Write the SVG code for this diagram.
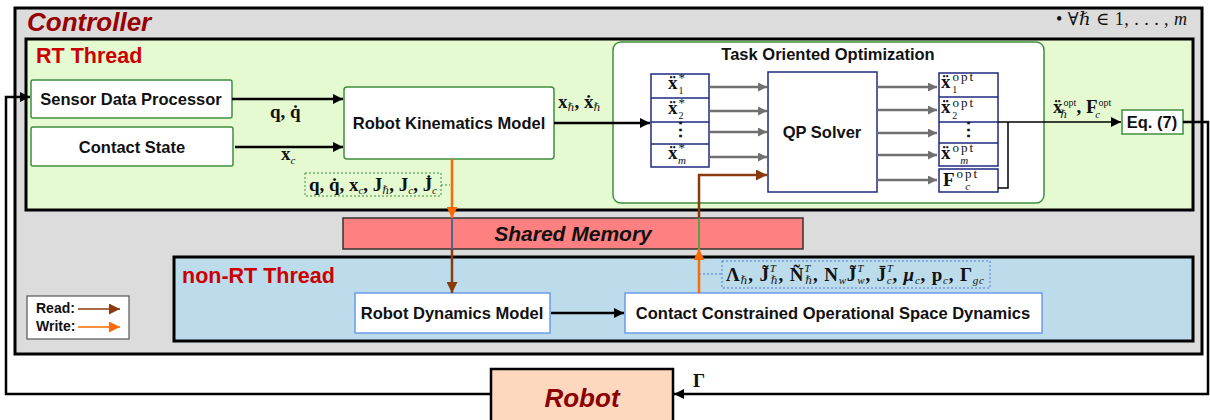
<svg xmlns="http://www.w3.org/2000/svg" width="1210" height="420" viewBox="0 0 1210 420">
<style>
  .frame{stroke:#000;stroke-width:3}
  .lbl{font-family:"Liberation Sans",Arial,sans-serif;font-weight:bold;font-size:16.5px;fill:#111;text-anchor:middle}
  .title{font-family:"Liberation Sans",Arial,sans-serif;font-weight:bold;fill:#cc0000;font-size:21.5px}
  .math{font-family:"Liberation Serif","DejaVu Serif",serif;font-weight:bold;font-size:19px;fill:#111}
  .it{font-family:"Liberation Serif","DejaVu Serif",serif;font-style:italic;font-weight:normal;font-size:11px;fill:#111}
  .rm{font-family:"Liberation Serif","DejaVu Serif",serif;font-weight:normal;font-size:10px;fill:#111}
  .sup{font-family:"Liberation Serif","DejaVu Serif",serif;font-weight:normal;font-size:13px;fill:#111}
  .opt{font-family:"Liberation Serif","DejaVu Serif",serif;font-weight:normal;font-size:13px;letter-spacing:2px;fill:#111}
  .gbox{fill:#fff;stroke:#3f8f3f;stroke-width:1.5}
  .bbox{fill:#fff;stroke:#6b9cec;stroke-width:1.5}
  .nbox{fill:#fff;stroke:#1f2a80;stroke-width:1.5}
  .blk{fill:none;stroke:#000;stroke-width:2.5}
  .gry{fill:none;stroke:#707070;stroke-width:2.5}
  .brn{fill:none;stroke:#8b3a0e;stroke-width:2.5}
  .org{fill:none;stroke:#ff6a00;stroke-width:2.5}
</style>
<defs>
  <marker id="ah-blk" viewBox="0 0 10 10" refX="10" refY="5" markerWidth="14" markerHeight="10" markerUnits="userSpaceOnUse" orient="auto"><path d="M0,0 L10,5 L0,10 z" fill="#000"/></marker>
  <marker id="ah-gry" viewBox="0 0 10 10" refX="10" refY="5" markerWidth="14" markerHeight="9" markerUnits="userSpaceOnUse" orient="auto"><path d="M0,0 L10,5 L0,10 z" fill="#707070"/></marker>
  <marker id="ah-brn" viewBox="0 0 10 10" refX="10" refY="5" markerWidth="13" markerHeight="11" markerUnits="userSpaceOnUse" orient="auto"><path d="M0,0 L10,5 L0,10 z" fill="#8b3a0e"/></marker>
  <marker id="ah-org" viewBox="0 0 10 10" refX="10" refY="5" markerWidth="13" markerHeight="11" markerUnits="userSpaceOnUse" orient="auto"><path d="M0,0 L10,5 L0,10 z" fill="#ff6a00"/></marker>
</defs>

<rect width="1210" height="420" fill="#fff"/>

<!-- controller container -->
<g id="controller">
  <rect x="15" y="8" width="1187" height="346" fill="#dcdcdc" class="frame"/>
  <text x="27" y="31" font-family="Liberation Sans,Arial,sans-serif" font-weight="bold" font-style="italic" font-size="26" fill="#990000">Controller</text>
  <text x="1056" y="25" font-family="Liberation Serif,DejaVu Serif,serif" font-size="18" fill="#111" textLength="131" lengthAdjust="spacing">• ∀<tspan font-style="italic">ℏ</tspan> ∈ 1, . . . , <tspan font-style="italic">m</tspan></text>
</g>

<!-- real-time thread -->
<g id="rt-thread">
  <rect x="26" y="39" width="1167" height="171" fill="#e5fad0" class="frame"/>
  <text x="36" y="63" class="title">RT Thread</text>
</g>

<g id="sensor">
  <rect x="31" y="80" width="201" height="38" rx="2" class="gbox"/>
  <text x="131" y="105" class="lbl">Sensor Data Processor</text>
</g>
<g id="contact-state">
  <rect x="31" y="127" width="202" height="39" rx="2" class="gbox"/>
  <text x="132" y="153" class="lbl">Contact State</text>
</g>
<g id="kinematics">
  <rect x="344" y="87" width="210" height="72" rx="3" class="gbox"/>
  <text x="449" y="129" class="lbl">Robot Kinematics Model</text>
</g>

<g id="task-opt">
  <rect x="613" y="42" width="431" height="161" rx="8" class="gbox"/>
  <text x="828" y="60" class="lbl" font-size="14.5">Task Oriented Optimization</text>
</g>

<!-- task references -->
<g id="task-refs">
  <rect x="651" y="74" width="58" height="93" class="nbox"/>
  <path d="M651,98 H709 M651,122 H709 M651,144 H709" stroke="#1f2a80" stroke-width="1.3"/>
  <text x="668" y="89" class="math">ẍ<tspan class="sup" dx="1" dy="-7">*</tspan><tspan class="rm" dx="-6.5" dy="12">1</tspan></text>
  <text x="668" y="114" class="math">ẍ<tspan class="sup" dx="1" dy="-7">*</tspan><tspan class="rm" dx="-6.5" dy="12">2</tspan></text>
  <text x="680" y="136" class="math" text-anchor="middle" font-size="15">⋮</text>
  <text x="668" y="159" class="math">ẍ<tspan class="sup" dx="1" dy="-7">*</tspan><tspan class="it" font-size="10" dx="-7" dy="12">m</tspan></text>
</g>

<g id="qp-solver">
  <rect x="768" y="72" width="109" height="120" class="nbox"/>
  <text x="822" y="138" class="lbl">QP Solver</text>
</g>

<!-- optimal outputs -->
<g id="opt-outputs">
  <rect x="939" y="73" width="59" height="93" class="nbox"/>
  <path d="M939,97 H998 M939,122 H998 M939,143 H998" stroke="#1f2a80" stroke-width="1.3"/>
  <text x="941" y="88" class="math">ẍ<tspan class="opt" dx="2" dy="-7">opt</tspan><tspan class="rm" dx="-23" dy="12">1</tspan></text>
  <text x="941" y="113" class="math">ẍ<tspan class="opt" dx="2" dy="-6">opt</tspan><tspan class="rm" dx="-23" dy="12">2</tspan></text>
  <text x="968" y="136" class="math" text-anchor="middle" font-size="15">⋮</text>
  <text x="941" y="159" class="math">ẍ<tspan class="opt" dx="2" dy="-7">opt</tspan><tspan class="it" font-size="10" dx="-15" dy="12">m</tspan></text>
</g>
<g id="contact-force">
  <rect x="939" y="169" width="59" height="23" class="nbox"/>
  <text x="943" y="186" class="math" font-size="18">F<tspan class="opt" dx="2" dy="-8">opt</tspan><tspan class="it" font-size="10" dx="-14" dy="12">c</tspan></text>
</g>

<g id="eq7">
  <rect x="1122" y="110" width="61" height="24" class="gbox"/>
  <text x="1152" y="127.5" class="lbl" font-size="14">Eq. (7)</text>
</g>

<!-- shared memory -->
<g id="shared-memory">
  <rect x="343" y="218" width="460" height="31" fill="#ff8080" stroke="#333" stroke-width="1.5"/>
  <text x="573" y="241" font-family="Liberation Sans,Arial,sans-serif" font-weight="bold" font-style="italic" font-size="21" fill="#111" text-anchor="middle">Shared Memory</text>
</g>

<!-- non-real-time thread -->
<g id="nrt-thread">
  <rect x="174" y="257" width="1019" height="84" fill="#bcdbeb" class="frame"/>
  <text x="182" y="283" class="title">non-RT Thread</text>
</g>
<g id="dynamics">
  <rect x="355" y="293" width="195" height="40" class="bbox"/>
  <text x="452" y="319" class="lbl">Robot Dynamics Model</text>
</g>
<g id="ccosd">
  <rect x="625" y="293" width="417" height="40" class="bbox"/>
  <text x="833" y="319" class="lbl">Contact Constrained Operational Space Dynamics</text>
</g>

<!-- legend -->
<g id="legend">
  <rect x="27" y="296" width="102" height="43" fill="#fff" stroke="#555" stroke-width="1.2"/>
  <text x="36" y="313" font-family="Liberation Sans,Arial,sans-serif" font-weight="bold" font-size="14" fill="#111">Read:</text>
  <text x="36" y="331" font-family="Liberation Sans,Arial,sans-serif" font-weight="bold" font-size="14" fill="#111">Write:</text>
  <path d="M78,309 H120" stroke="#8b3a0e" stroke-width="1.5" marker-end="url(#ah-brn)"/>
  <path d="M78,327 H120" stroke="#ff6a00" stroke-width="1.5" marker-end="url(#ah-org)"/>
</g>

<!-- plant -->
<g id="robot">
  <rect x="491" y="369" width="182" height="60" fill="#fdd8bf" stroke="#000" stroke-width="2.5"/>
  <text x="582" y="407" font-family="Liberation Sans,Arial,sans-serif" font-weight="bold" font-style="italic" font-size="26" fill="#8b0000" text-anchor="middle">Robot</text>
</g>

<!-- signal labels -->
<g id="labels">
  <text x="270" y="118" class="math" font-size="18">q, q̇</text>
  <text x="281" y="160" class="math" font-size="18">x<tspan class="it" font-size="13" dy="4">c</tspan></text>
  <text x="558" y="108" class="math" font-size="18">x<tspan class="it" font-size="13" dy="3">ℏ</tspan><tspan dy="-3">, ẋ</tspan><tspan class="it" font-size="13" dy="3">ℏ</tspan></text>
  <text x="1053" y="113" class="math" font-size="15">ẍ<tspan class="rm" font-size="10.5" dx="1" dy="-7">opt</tspan><tspan class="it" font-size="9" dx="-16" dy="12">ℏ</tspan><tspan dx="9" dy="-5">, F</tspan><tspan class="rm" font-size="10.5" dx="1" dy="-7">opt</tspan><tspan class="it" font-size="9" dx="-16" dy="12">c</tspan></text>
  <text x="693" y="387" class="math" font-size="21">Γ</text>
  <!-- state snapshot written to shared memory -->
  <rect x="305" y="173" width="136" height="23" fill="none" stroke="#3f8f3f" stroke-width="1" stroke-dasharray="2,2"/>
  <path d="M441,185 H450" stroke="#3f8f3f" stroke-width="1" stroke-dasharray="2,2"/>
  <text x="309" y="191" class="math" font-size="17.5" textLength="128" lengthAdjust="spacing">q, q̇, x<tspan class="it" font-size="12" dy="3">c</tspan><tspan dy="-3">, J</tspan><tspan class="it" font-size="12" dy="3">ℏ</tspan><tspan dy="-3">, J</tspan><tspan class="it" font-size="12" dy="3">c</tspan><tspan dy="-3">, J̇</tspan><tspan class="it" font-size="12" dy="3">c</tspan></text>
  <!-- dynamics quantities written to shared memory -->
  <rect x="722" y="261" width="268" height="27" fill="none" stroke="#4a7fd8" stroke-width="1" stroke-dasharray="2,2"/>
  <path d="M699,274 H722" stroke="#4a7fd8" stroke-width="1" stroke-dasharray="2,2"/>
  <text x="726" y="281" class="math" font-size="18" textLength="258" lengthAdjust="spacing">Λ<tspan class="it" font-size="12" dy="3">ℏ</tspan><tspan dy="-3">, J̃</tspan><tspan class="it" font-size="11" dy="-9">T</tspan><tspan class="it" font-size="10" dx="-6" dy="12">ℏ</tspan><tspan dy="-3">, Ñ</tspan><tspan class="it" font-size="11" dy="-9">T</tspan><tspan class="it" font-size="10" dx="-6" dy="12">ℏ</tspan><tspan dy="-3">, N</tspan><tspan class="it" font-size="12" dy="3">w</tspan><tspan dy="-3">J̃</tspan><tspan class="it" font-size="11" dy="-9">T</tspan><tspan class="it" font-size="10" dx="-6" dy="12">w</tspan><tspan dy="-3">, J̄</tspan><tspan class="it" font-size="11" dy="-9">T</tspan><tspan class="it" font-size="10" dx="-6" dy="12">c</tspan><tspan dy="-3">, </tspan><tspan font-style="italic">μ</tspan><tspan class="it" font-size="12" dy="3">c</tspan><tspan dy="-3">, p</tspan><tspan class="it" font-size="12" dy="3">c</tspan><tspan dy="-3">, Γ</tspan><tspan class="it" font-size="12" dy="3">gc</tspan></text>
</g>

<!-- connectors -->
<g id="connectors">
  <path d="M232,99 H343" class="blk" marker-end="url(#ah-blk)"/>
  <path d="M235,147 H343" class="blk" marker-end="url(#ah-blk)"/>
  <path d="M554,123 H650" class="blk" marker-end="url(#ah-blk)"/>
  <path d="M710,87 H767" class="gry" marker-end="url(#ah-gry)"/>
  <path d="M710,111 H767" class="gry" marker-end="url(#ah-gry)"/>
  <path d="M710,132 H767" class="gry" marker-end="url(#ah-gry)"/>
  <path d="M710,157 H767" class="gry" marker-end="url(#ah-gry)"/>
  <path d="M877,87 H937" class="gry" marker-end="url(#ah-gry)"/>
  <path d="M877,110 H937" class="gry" marker-end="url(#ah-gry)"/>
  <path d="M877,133 H937" class="gry" marker-end="url(#ah-gry)"/>
  <path d="M877,155 H937" class="gry" marker-end="url(#ah-gry)"/>
  <path d="M877,180 H937" class="gry" marker-end="url(#ah-gry)"/>
  <path d="M998,188 H1008 V122" fill="none" stroke="#000" stroke-width="1.5"/>
  <path d="M998,122 H1121" fill="none" stroke="#000" stroke-width="1.5" marker-end="url(#ah-blk)"/>
  <!-- write path: kinematics to shared memory, read path: shared memory to dynamics -->
  <path d="M452,159 V218" class="org" marker-end="url(#ah-org)"/>
  <path d="M452,218 V249" stroke="#4a6a8a" stroke-width="2"/>
  <path d="M452,249 V293" class="brn" marker-end="url(#ah-brn)"/>
  <path d="M551,313 H624" class="blk" marker-end="url(#ah-blk)"/>
  <!-- write path: dynamics to shared memory, read path: shared memory to QP -->
  <path d="M699,293 V249" class="org" marker-end="url(#ah-org)"/>
  <path d="M699,249 V218" stroke="#5aa050" stroke-width="2"/>
  <path d="M699,218 V175 H767" class="brn" marker-end="url(#ah-brn)"/>
  <!-- torque command and sensor feedback loop -->
  <path d="M1183,122 H1208 V394 H674" class="blk" marker-end="url(#ah-blk)"/>
  <path d="M491,394 H6 V97 H30" class="blk" marker-end="url(#ah-blk)"/>
</g>
</svg>
